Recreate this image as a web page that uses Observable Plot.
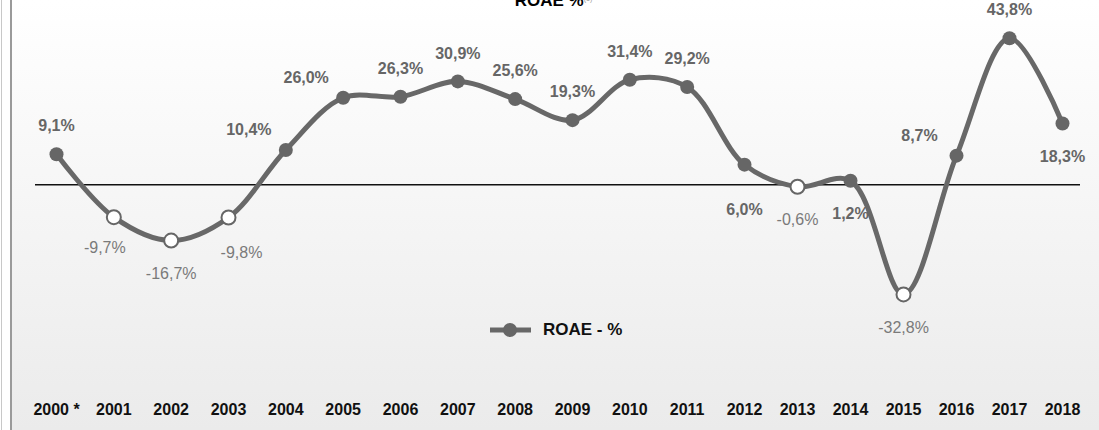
<!DOCTYPE html>
<html><head><meta charset="utf-8">
<script src="https://cdn.jsdelivr.net/npm/d3@7"></script>
<script src="https://cdn.jsdelivr.net/npm/@observablehq/plot@0.6"></script>
<style>
html,body{margin:0;padding:0;width:1099px;height:430px;overflow:hidden;background:#fff;font-family:"Liberation Sans",Arial,sans-serif;}
#outer{position:absolute;left:1px;top:0;width:1px;height:430px;background:#c8c8c8}
#frame{position:absolute;left:10px;top:0;width:1089px;height:430px;background:linear-gradient(#ffffff,#ebebeb);border-left:2px solid #9a9a9a;}
#chart{position:absolute;left:0;top:0}
#title{position:absolute;top:-8px;left:4px;width:1099px;text-align:center;font-weight:bold;font-size:17px;line-height:17px;color:#000}
#title sup{font-size:7px;color:#999;font-weight:normal;vertical-align:top;position:relative;top:-2px}
#legend{position:absolute;left:490px;top:320px;height:20px;display:flex;align-items:center;font-weight:bold;font-size:17px;color:#111}
#legend svg{margin-right:12px}
</style></head>
<body>
<div id="outer"></div>
<div id="frame"></div>
<div id="chart"></div>
<div id="title">ROAE %<sup>(1)</sup></div>
<div id="legend"><svg width="41" height="20"><line x1="0" y1="10" x2="41" y2="10" stroke="#686868" stroke-width="5"/><circle cx="20" cy="10" r="7" fill="#666"/></svg>ROAE - %</div>
<script>
const years = [2000,2001,2002,2003,2004,2005,2006,2007,2008,2009,2010,2011,2012,2013,2014,2015,2016,2017,2018];
const roae  = [9.1,-9.7,-16.7,-9.8,10.4,26.0,26.3,30.9,25.6,19.3,31.4,29.2,6.0,-0.6,1.2,-32.8,8.7,43.8,18.3];
const labels = ["9,1%","-9,7%","-16,7%","-9,8%","10,4%","26,0%","26,3%","30,9%","25,6%","19,3%","31,4%","29,2%","6,0%","-0,6%","1,2%","-32,8%","8,7%","43,8%","18,3%"];
const tickLabels = ["2000 *","2001","2002","2003","2004","2005","2006","2007","2008","2009","2010","2011","2012","2013","2014","2015","2016","2017","2018"];
// label placement codes (t = above, tl = above-left, b = below, ...)
const labelPlace = ["t","bl","b","br","tl","tl","t","t","t","t","t","t","bb","b","b","b","tl","t","b"];

const offsets = {t:[0,-28], tl:[-37,-20], b:[0,33], bb:[0,45], bl:[-9,31], br:[13,35]};
const data = years.map((y,i)=>({year:y, v:roae[i], label:labels[i], place:labelPlace[i], tick:tickLabels[i]}));

const textMarks = [];
for (const p of Object.keys(offsets)) {
  for (const neg of [false,true]) {
    const subset = data.filter(d => d.place===p && (d.v<0)===neg);
    if (!subset.length) continue;
    textMarks.push(Plot.text(subset, {x:"year", y:"v", text:"label", dx:offsets[p][0], dy:offsets[p][1],
      fill: neg ? "#7a7a7a" : "#666", fontWeight: neg ? "normal" : "bold", fontSize:16,
      fontFamily:"Liberation Sans, Arial, sans-serif"}));
  }
}

const chart = Plot.plot({
  width:1099, height:430,
  marginLeft:35, marginRight:19, marginTop:17, marginBottom:112,
  style:{background:"transparent", fontFamily:"Liberation Sans, Arial, sans-serif"},
  x:{type:"linear", domain:[2000,2012,2018], range:[56,744,1062], axis:null},
  y:{domain:[-40,50], axis:null},
  marks:[
    Plot.ruleY([0], {stroke:"#111", strokeWidth:1.5}),
    Plot.line(data, {x:"year", y:"v", curve:"catmull-rom", stroke:"#686868", strokeWidth:5}),
    Plot.dot(data.filter(d=>d.v>=0), {x:"year", y:"v", r:7, fill:"#666", stroke:"none"}),
    Plot.dot(data.filter(d=>d.v<0), {x:"year", y:"v", r:7, fill:"#fff", stroke:"#666", strokeWidth:2}),
    ...textMarks,
    Plot.axisX({anchor:"bottom", ticks:years, tickFormat:(d)=>tickLabels[years.indexOf(d)], tickSize:0, tickPadding:85,
      fontSize:16, fontWeight:"bold", color:"#111", label:null})
  ]
});
document.getElementById("chart").appendChild(chart);
</script>
</body></html>
